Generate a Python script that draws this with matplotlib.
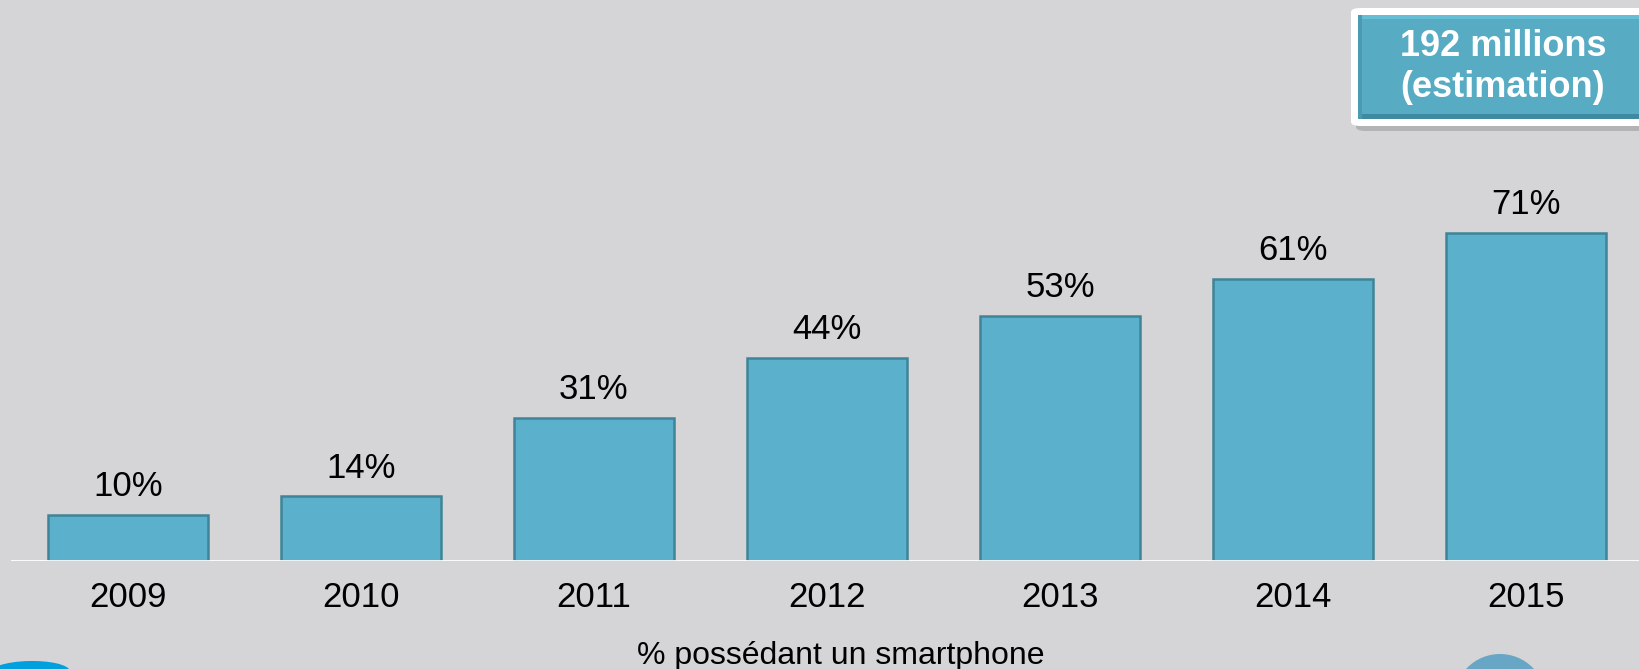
import matplotlib.pyplot as plt
from matplotlib.patches import Rectangle, Ellipse, FancyBboxPatch

annees = ['2009', '2010', '2011', '2012', '2013', '2014', '2015']
pourcentages = [10, 14, 31, 44, 53, 61, 71]
etiquettes = ['10%', '14%', '31%', '44%', '53%', '61%', '71%']
titre_axe = '% possédant un smartphone'
texte_encadre = '192 millions\n(estimation)'

plt.rcParams['font.family'] = ['Liberation Sans', 'DejaVu Sans']

W, H = 1639, 669
fond = '#d5d5d7'
fig = plt.figure(figsize=(W / 100, H / 100), dpi=100, facecolor=fond)

# axes: de x=11 px jusqu'au bord droit, ligne de base a y=561 px
ax = fig.add_axes([11 / W, (H - 561) / H, (W - 11) / W, 561 / H])
ax.set_facecolor(fond)

x = range(len(annees))
ax.bar(x, pourcentages, width=0.685, color='#5bb1cb',
       edgecolor='#3f8498', linewidth=1.8, zorder=2)

for xi, v, lab in zip(x, pourcentages, etiquettes):
    ax.annotate(lab, (xi, v), xytext=(0, 13.5), textcoords='offset points',
                ha='center', va='baseline', fontsize=25, color='black')

for xi, an in zip(x, annees):
    ax.annotate(an, (xi, 0), xycoords=('data', 'axes fraction'),
                xytext=(0, -33), textcoords='offset points',
                ha='center', va='baseline', fontsize=25, color='black',
                annotation_clip=False)

ax.axhline(0, color='white', lw=2, zorder=3)
ax.set_xlim(-0.502, 6.485)
ax.set_ylim(0, 121.4)
ax.axis('off')

fig.text(841 / W, (H - 664) / H, titre_axe, ha='center', va='baseline',
         fontsize=23, color='black')

# encadre en haut a droite
def rect_px(x0, y0, x1, y1, **kw):
    return Rectangle((x0 / W, 1 - y1 / H), (x1 - x0) / W, (y1 - y0) / H,
                     transform=fig.transFigure, **kw)

fig.patches.append(FancyBboxPatch((1356 / W, 1 - 131 / H), 300 / W, 118 / H,
                                  boxstyle='round,pad=0,rounding_size=0.006',
                                  transform=fig.transFigure,
                                  facecolor='#b3b3b5', edgecolor='none',
                                  zorder=1))
fig.patches.append(FancyBboxPatch((1351 / W, 1 - 126 / H), 300 / W, 118 / H,
                                  boxstyle='round,pad=0,rounding_size=0.006',
                                  transform=fig.transFigure,
                                  facecolor='white', edgecolor='none',
                                  zorder=2))
fig.patches.append(rect_px(1358, 15, 1650, 119, facecolor='#57abc3',
                           edgecolor='none', zorder=3))
fig.patches.append(rect_px(1358, 15, 1650, 19, facecolor='#66bed6',
                           edgecolor='none', zorder=3))
fig.patches.append(rect_px(1358, 114, 1650, 119, facecolor='#3f8aa0',
                           edgecolor='none', zorder=3))
fig.patches.append(rect_px(1358, 15, 1362, 119, facecolor='#4a9bb2',
                           edgecolor='none', zorder=3))
fig.text(1503 / W, 1 - 67 / H, texte_encadre, ha='center', va='center',
         fontsize=26, fontweight='bold', color='white', linespacing=1.2,
         zorder=5)

# fragments de logos en bas
fig.patches.append(Ellipse((30 / W, 1 - 672 / H), 80 / W, 22 / H, angle=4,
                           transform=fig.transFigure, facecolor='#00a0df',
                           edgecolor='none'))
fig.patches.append(Ellipse((1500 / W, 1 - 700 / H), 92 / W, 92 / H,
                           transform=fig.transFigure, facecolor='#67a6c4',
                           edgecolor='none'))

fig.savefig('out.png', dpi=100, facecolor=fond)
